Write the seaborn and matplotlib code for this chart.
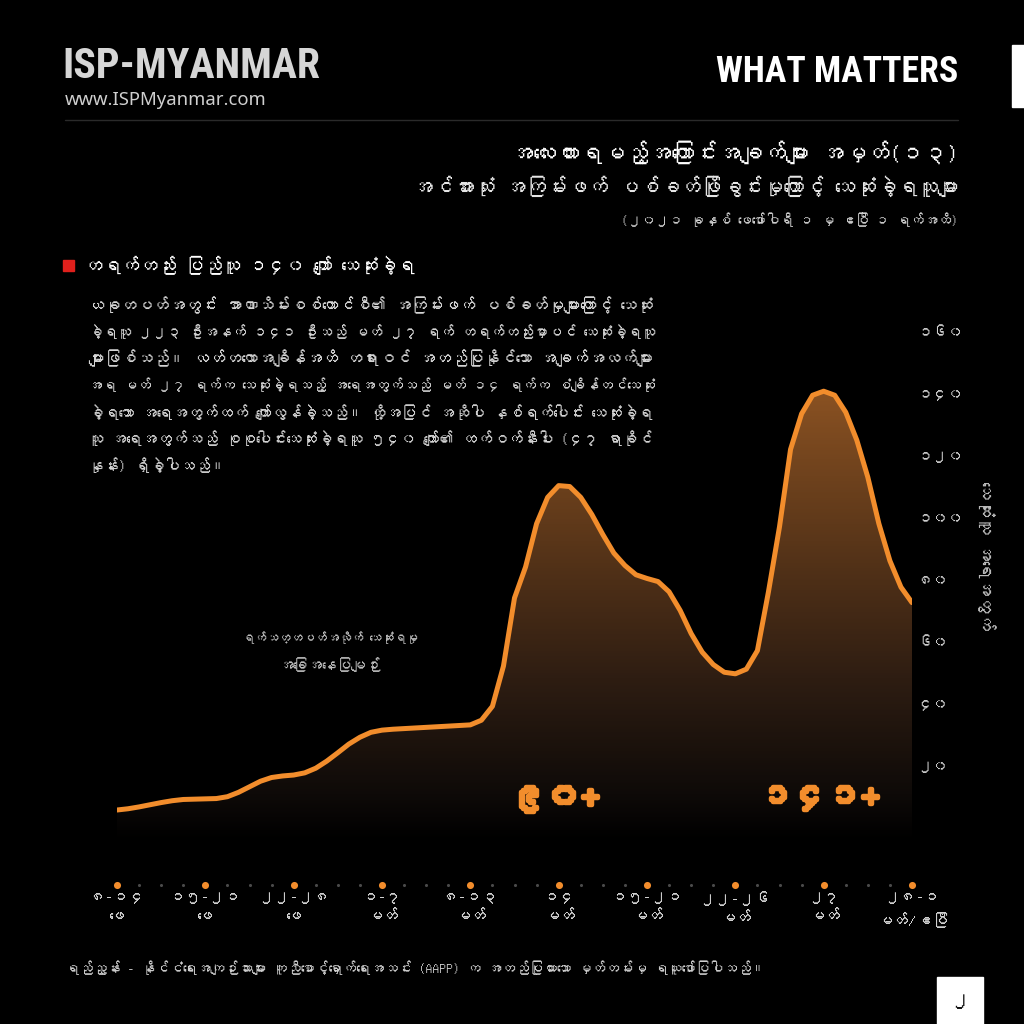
import numpy as np
import pandas as pd
import matplotlib
matplotlib.use("Agg")
import matplotlib.pyplot as plt
import matplotlib.patheffects as pe
import seaborn as sns
from matplotlib import font_manager as fm
from matplotlib.ft2font import FT2Font
from matplotlib.colors import LinearSegmentedColormap
from matplotlib.patches import Rectangle

# ---------------- data ----------------
# weekly death-trend line, every half dot step along the x rail
deaths = [5.5, 5.9, 6.5, 7.2, 7.9, 8.5, 8.9, 9.0, 9.1, 9.2, 9.8, 11.2, 13.0,
          14.8, 16.0, 16.5, 16.8, 17.5, 19.0, 21.3, 24.0, 26.8, 29.0, 30.6,
          31.3, 31.6, 31.8, 32.0, 32.2, 32.4, 32.6, 32.8, 33.0, 34.5, 39.0,
          52.0, 74.0, 84.0, 98.0, 106.5, 110.3, 110.0, 106.5, 101.0, 94.5,
          88.5, 84.5, 81.5, 80.3, 79.3, 76.0, 70.0, 62.5, 56.5, 52.5, 50.0,
          49.5, 51.0, 57.0, 76.0, 97.0, 122.0, 133.5, 139.5, 140.8, 139.5,
          134.0, 125.0, 113.0, 98.0, 86.0, 77.5, 72.5]
major_labels = ["၈-၁၄\nဖေ", "၁၅-၂၁\nဖေ", "၂၂-၂၈\nဖေ", "၁-၇\nမတ်", "၈-၁၃\nမတ်",
                "၁၄\nမတ်", "၁၅-၂၁\nမတ်", "၂၂-၂၆\nမတ်", "၂၇\nမတ်", "၂၈-၁\nမတ်/ဧပြီ"]
ytick_values = [20, 40, 60, 80, 100, 120, 140, 160]
ytick_labels = ["၂၀", "၄၀", "၆၀", "၈၀", "၁၀၀", "၁၂၀", "၁၄၀", "၁၆၀"]
peak_labels = ["၉၀+", "၁၄၁+"]
peak_positions = [19.8, 31.8]

title1 = "အလေးထားရမည့်အကြောင်းအချက်များ အမှတ်(၁၃)"
title2 = "အင်အားသုံး အကြမ်းဖက် ပစ်ခတ်ဖြိုခွင်းမှုကြောင့် သေဆုံးခဲ့ရသူများ"
title3 = "(၂၀၂၁ ခုနှစ် ဖေဖော်ဝါရီ ၁ မှ ဧပြီ ၁ ရက်အထိ)"
heading = "တရက်တည်း ပြည်သူ ၁၄၀ ကျော် သေဆုံးခဲ့ရ"
paragraph = [
    "ယခုတပတ်အတွင်း အာဏာသိမ်းစစ်ကောင်စီ၏ အကြမ်းဖက် ပစ်ခတ်မှုများကြောင့် သေဆုံး",
    "ခဲ့ရသူ ၂၂၃ ဦးအနက် ၁၄၁ ဦးသည် မတ် ၂၇ ရက် တရက်တည်းမှာပင် သေဆုံးခဲ့ရသူ",
    "များဖြစ်သည်။ လတ်တလောအချိန်အထိ တရားဝင် အတည်ပြုနိုင်သော အချက်အလက်များ",
    "အရ မတ် ၂၇ ရက်က သေဆုံးခဲ့ရသည့် အရေအတွက်သည် မတ် ၁၄ ရက်က စံချိန်တင်သေဆုံး",
    "ခဲ့ရသော အရေအတွက်ထက် ကျော်လွန်ခဲ့သည်။ ထို့အပြင် အဆိုပါ နှစ်ရက်ပေါင်း သေဆုံးခဲ့ရ",
    "သူ အရေအတွက်သည် စုစုပေါင်းသေဆုံးခဲ့ရသူ ၅၄၀ ကျော်၏ ထက်ဝက်နီးပါး (၄၇ ရာခိုင်",
    "နှုန်း) ရှိခဲ့ပါသည်။",
]
annotation = ["ရက်သတ္တပတ်အလိုက် သေဆုံးရမှု", "အခြေအနေပြမျဉ်း"]
ylabel_text = "သေဆုံးသူ အရေအတွက်"
footer = ("ရည်ညွှန်း - နိုင်ငံရေးအကျဉ်းသားများ ကူညီစောင့်ရှောက်ရေးအသင်း (AAPP) က "
          "အတည်ပြုထားသော မှတ်တမ်းမှ ရယူဖော်ပြပါသည်။")
brand = "ISP-MYANMAR"
website = "www.ISPMyanmar.com"
series_name = "WHAT MATTERS"
page_no = "၂"

# ---------------- fonts ----------------
def font_ok(name):
    try:
        fm.findfont(fm.FontProperties(family=name), fallback_to_default=False)
        return True
    except Exception:
        return False

mm_family = None
for f in fm.fontManager.ttflist:
    try:
        cm_ = FT2Font(f.fname).get_charmap()
        if 0x1000 in cm_ and 0x1040 in cm_:
            mm_family = f.name
            break
    except Exception:
        pass

base = [n for n in ["Noto Sans", "DejaVu Sans"] if font_ok(n)]
MM = ([mm_family] if mm_family else []) + base
NARROW = [n for n in ["Liberation Sans Narrow", "Roboto Condensed",
                      "DejaVu Sans"] if font_ok(n)]

sns.set_theme(style="dark")
plt.rcParams["font.family"] = MM
plt.rcParams["axes.unicode_minus"] = False

ORANGE = "#F28D2C"
W = H = 1024

fig = plt.figure(figsize=(10.24, 10.24), dpi=100, facecolor="black")
renderer = fig.canvas.get_renderer()

def fx(px):
    return px / W

def fy(py):
    return 1 - py / H

def fit(t, width_px, axis="w"):
    bb = t.get_window_extent(renderer)
    cur = bb.width if axis == "w" else bb.height
    if cur > 0:
        t.set_fontsize(t.get_fontsize() * width_px / cur)
    return t

# ---------------- axes ----------------
YMIN, YMAX = -5, 165
ax_left, ax_right = 117, 912
ax_top, ax_bottom = 316.3, 842.5
ax = fig.add_axes([fx(ax_left), fy(ax_bottom), (ax_right - ax_left) / W,
                   (ax_bottom - ax_top) / H])
ax.set_facecolor("black")

n_steps = 36
df = pd.DataFrame({"pos": np.linspace(0, n_steps, len(deaths)), "deaths": deaths})

# gradient fill under the line
poly = ax.fill_between(df["pos"], df["deaths"], YMIN, color="none", lw=0)
cmap = LinearSegmentedColormap.from_list(
    "fade", [(0.0, "#000000"), (0.10, "#0e0a08"), (0.35, "#2e1d12"),
             (0.65, "#5a3619"), (1.0, "#8e5423")])
grad = np.linspace(145, YMIN, 300).reshape(-1, 1)
im = ax.imshow(grad, extent=[0, n_steps, YMIN, 145], aspect="auto",
               cmap=cmap, vmin=YMIN, vmax=145, origin="upper", zorder=1)
im.set_clip_path(poly.get_paths()[0], transform=ax.transData)

sns.lineplot(data=df, x="pos", y="deaths", ax=ax, color=ORANGE, lw=3.6,
             zorder=3, solid_capstyle="round", solid_joinstyle="round")

ax.set_xlim(0, n_steps)
ax.set_ylim(YMIN, YMAX)
for s in ax.spines.values():
    s.set_visible(False)
ax.grid(False)
ax.set_xlabel("")
ax.set_ylabel("")

# y axis on the right
ax.yaxis.tick_right()
ax.set_yticks(ytick_values)
ax.set_yticklabels(ytick_labels, color="#cfcfcf", fontsize=11)
ax.tick_params(axis="y", length=0, pad=4)

# x axis: labels under the big dots
major_pos = list(range(0, n_steps + 1, 4))
ax.set_xticks(major_pos)
ax.set_xticklabels(major_labels, color="#cfcfcf", fontsize=11.5, linespacing=1.55)
ax.tick_params(axis="x", length=0, pad=35)

# dot rail
rail_y = (ax_bottom - 885) / (ax_bottom - ax_top)
trans = ax.get_xaxis_transform()
minor_pos = [p for p in range(n_steps + 1) if p % 4 != 0]
ax.scatter(minor_pos, [rail_y] * len(minor_pos), s=5, color="#4a4a4a",
           transform=trans, clip_on=False, zorder=4, linewidths=0)
ax.scatter(major_pos, [rail_y] * len(major_pos), s=26, color=ORANGE,
           transform=trans, clip_on=False, zorder=4, linewidths=0)

# big peak numbers
for lab, p, wpx in zip(peak_labels, peak_positions, [88, 118]):
    t = ax.text(p, 9.5, lab, color=ORANGE, fontsize=30, fontweight="bold",
                ha="center", va="center", zorder=5,
                path_effects=[pe.withStroke(linewidth=3.2, foreground=ORANGE)])
    fit(t, wpx)

# ---------------- header ----------------
t = fig.text(fx(62), fy(66), brand, color="#d6d6d6", fontsize=40,
             fontweight="bold", fontstretch="condensed", family=NARROW,
             ha="left", va="center")
fit(t, 258)
t = fig.text(fx(65), fy(100), website, color="#cfcfcf", fontsize=12.5,
             family=base, ha="left", va="center")
fit(t, 202)
t = fig.text(fx(958), fy(72), series_name, color="white", fontsize=34,
             fontweight="bold", fontstretch="condensed", family=NARROW,
             ha="right", va="center")
fit(t, 243)
fig.patches.append(Rectangle((fx(1012), fy(107)), fx(12), 62 / H,
                             transform=fig.transFigure, color="white"))
fig.add_artist(plt.Line2D([fx(65), fx(958)], [fy(120), fy(120)],
                          transform=fig.transFigure, color="#2a2a2a", lw=1))

t = fig.text(fx(958), fy(152), title1, color="white", fontsize=13.5,
             fontweight="bold", ha="right", va="center")
fit(t, 448)
t = fig.text(fx(958), fy(186), title2, color="#e6e6e6", fontsize=13.5,
             ha="right", va="center")
fit(t, 546)
t = fig.text(fx(958), fy(220), title3, color="#cfcfcf", fontsize=11,
             ha="right", va="center")
fit(t, 338)

fig.patches.append(Rectangle((fx(63), fy(271)), fx(11), 11 / H,
                             transform=fig.transFigure, color="#e0201c"))
t = fig.text(fx(84), fy(265), heading, color="white", fontsize=12.5,
             fontweight="bold", ha="left", va="center")
fit(t, 330)

# paragraph: justified block 88..655 px, last line left as is
para_texts = []
for i, line in enumerate(paragraph):
    para_texts.append(fig.text(fx(88), fy(305 + i * 26.7), line, color="#d4d4d4",
                               fontsize=10.5, ha="left", va="center"))
for t in para_texts[:-1]:
    fit(t, 567)
sizes = [t.get_fontsize() for t in para_texts[:-1]]
para_texts[-1].set_fontsize(float(np.median(sizes)))

for i, (line, wpx) in enumerate(zip(annotation, [176, 102])):
    t = fig.text(fx(330), fy(638 + i * 27), line, color="#bdbdbd", fontsize=10,
                 ha="center", va="center")
    fit(t, wpx)

t = fig.text(fx(986), fy(555), ylabel_text, color="#bdbdbd", fontsize=9.5,
             rotation=-90, ha="center", va="center")
fit(t, 150, axis="h")

t = fig.text(fx(65), fy(968), footer, color="#cfcfcf", fontsize=9,
             ha="left", va="center")
fit(t, 700)

fig.patches.append(Rectangle((fx(937), 0), fx(46), 47 / H,
                             transform=fig.transFigure, color="white"))
fig.text(fx(960), fy(1001), page_no, color="#111111", fontsize=14,
         ha="center", va="center")

fig.savefig("out.png", dpi=100, facecolor="black")
